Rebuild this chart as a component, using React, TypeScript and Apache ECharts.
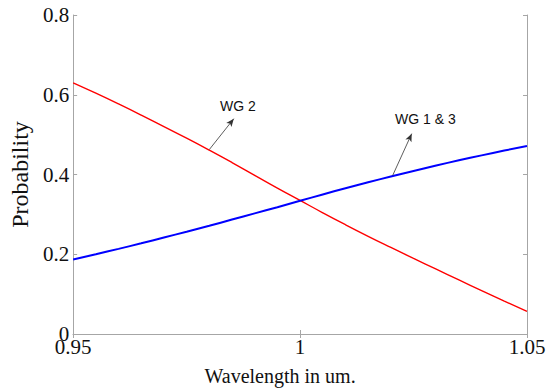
import React, { useEffect, useRef } from "react";
import * as echarts from "echarts";

const wavelength = [
  0.95, 0.955, 0.96, 0.965, 0.97, 0.975, 0.98, 0.985, 0.99, 0.995, 1.0,
  1.005, 1.01, 1.015, 1.02, 1.025, 1.03, 1.035, 1.04, 1.045, 1.05,
];
const wg13 = [
  0.187, 0.2, 0.2135, 0.2275, 0.242, 0.2565, 0.2715, 0.287, 0.3025, 0.318, 0.334,
  0.35, 0.3655, 0.3805, 0.395, 0.409, 0.4225, 0.4355, 0.448, 0.46, 0.4715,
];
const wg2 = [
  0.63, 0.604, 0.577, 0.549, 0.52, 0.491, 0.461, 0.43, 0.398, 0.366, 0.335,
  0.304, 0.274, 0.245, 0.217, 0.1895, 0.1625, 0.1355, 0.109, 0.0825, 0.0565,
];
const yTicks = [0, 0.2, 0.4, 0.6, 0.8];
const xTicks = [0.95, 1, 1.05];

// annotation anchors in data units: [from, to] and text position
const wg2Arrow = [[0.98, 0.4625], [0.9854, 0.54]];
const wg2Text = [0.9863, 0.572];
const wg13Arrow = [[1.0204, 0.3975], [1.0246, 0.5025]];
const wg13Text = [1.0276, 0.539];

const AXIS = "#a6a6a6";
const SERIF = "Liberation Serif";
const SANS = "Liberation Sans";

const fmt = (v: number) => String(+v.toFixed(2));

export default function App() {
  const ref = useRef<HTMLDivElement>(null);
  useEffect(() => {
    if (!ref.current) return;
    const chart = echarts.init(ref.current, undefined, { renderer: "svg" });
    const common = {
      axisLine: { show: true, lineStyle: { color: AXIS, width: 1 } },
      axisTick: { show: true, inside: true, length: 4, lineStyle: { color: AXIS } },
      splitLine: { show: false },
    };
    const arrow = (a: number[][]) => ({
      silent: true,
      symbol: ["none", "arrow"],
      symbolSize: 8,
      label: { show: false },
      lineStyle: { color: "#333", width: 0.8, type: "solid" },
      itemStyle: { color: "#222" },
      data: [
        [
          { coord: a[0], symbol: "none" },
          { coord: a[1], symbol: "arrow", symbolSize: [5, 8] },
        ],
      ],
    });
    const text = (p: number[], t: string) => ({
      silent: true,
      symbol: "circle",
      symbolSize: 1,
      itemStyle: { color: "transparent" },
      label: {
        show: true,
        position: "inside",
        formatter: t,
        color: "#111",
        fontFamily: SANS,
        fontSize: 14,
      },
      data: [{ coord: p }],
    });
    chart.setOption({
      animation: false,
      backgroundColor: "#fff",
      grid: { left: 67, right: 29, top: 15, bottom: 56 },
      xAxis: [
        {
          type: "value",
          min: xTicks[0],
          max: xTicks[xTicks.length - 1],
          interval: 0.05,
          ...common,
          axisLabel: {
            color: "#111",
            fontFamily: SERIF,
            fontSize: 21,
            margin: 2,
            formatter: fmt,
          },
          name: "Wavelength in um.",
          nameLocation: "middle",
          nameGap: 32,
          nameTextStyle: {
            color: "#111",
            fontFamily: SERIF,
            fontSize: 20,
            padding: [0, 40, 0, 0],
          },
        },
        {
          type: "value",
          position: "top",
          min: xTicks[0],
          max: xTicks[xTicks.length - 1],
          interval: 0.05,
          ...common,
          axisLabel: { show: false },
        },
      ],
      yAxis: [
        {
          type: "value",
          min: yTicks[0],
          max: yTicks[yTicks.length - 1],
          interval: 0.2,
          ...common,
          axisLabel: {
            color: "#111",
            fontFamily: SERIF,
            fontSize: 21,
            margin: 4,
            formatter: fmt,
          },
          name: "Probability",
          nameLocation: "middle",
          nameGap: 33,
          nameTextStyle: { color: "#111", fontFamily: SERIF, fontSize: 24 },
        },
        {
          type: "value",
          position: "right",
          min: yTicks[0],
          max: yTicks[yTicks.length - 1],
          interval: 0.2,
          ...common,
          axisLabel: { show: false },
        },
      ],
      series: [
        {
          name: "WG 2",
          type: "line",
          data: wavelength.map((x, i) => [x, wg2[i]]),
          showSymbol: false,
          smooth: true,
          lineStyle: { color: "#ff0000", width: 1.4 },
          markLine: arrow(wg2Arrow),
          markPoint: text(wg2Text, "WG 2"),
        },
        {
          name: "WG 1 & 3",
          type: "line",
          data: wavelength.map((x, i) => [x, wg13[i]]),
          showSymbol: false,
          smooth: true,
          lineStyle: { color: "#0000ff", width: 2 },
          markLine: arrow(wg13Arrow),
          markPoint: text(wg13Text, "WG 1 & 3"),
        },
      ],
    });
    return () => chart.dispose();
  }, []);
  return <div ref={ref} style={{ width: 556, height: 391, position: "absolute", left: 0, top: 0 }} />;
}
